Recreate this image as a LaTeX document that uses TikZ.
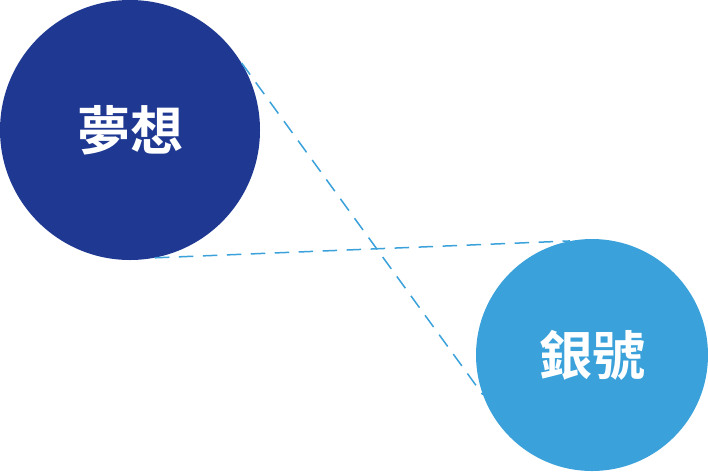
\documentclass[tikz,border=0pt]{standalone}
\usepackage{fontspec}
\usepackage{tikz}
\usetikzlibrary{positioning}
\newfontfamily\cjktc{Noto Sans CJK TC}[BoldFont={* Bold}]
\definecolor{dreamblue}{RGB}{31, 57, 146}
\definecolor{bankblue}{RGB}{58, 161, 218}

\begin{document}
\begin{tikzpicture}[x=1pt, y=-1pt,
  bubble/.style={circle, inner sep=0pt, text=white, font=\cjktc\bfseries\fontsize{53}{53}\selectfont},
  link/.style={bankblue, line width=1.5pt, dash pattern=on 14.5pt off 9.5pt}]
\useasboundingbox (0,0) rectangle (708,472);

% ── Circle 1: dream ─────────────────────────────────────────────
\node[bubble, fill=dreamblue, minimum size=260pt] (dream) at (130,130) {夢想};

% ── Circle 2: bank ──────────────────────────────────────────────
\node[bubble, fill=bankblue, minimum size=232pt] (bank) at (592,355) {銀號};

% ── Dashed links ────────────────────────────────────────────────
\draw[link] (dream.31) -- (bank.200);
\draw[link] (dream.-79) -- (bank.101);

\end{tikzpicture}
\end{document}
